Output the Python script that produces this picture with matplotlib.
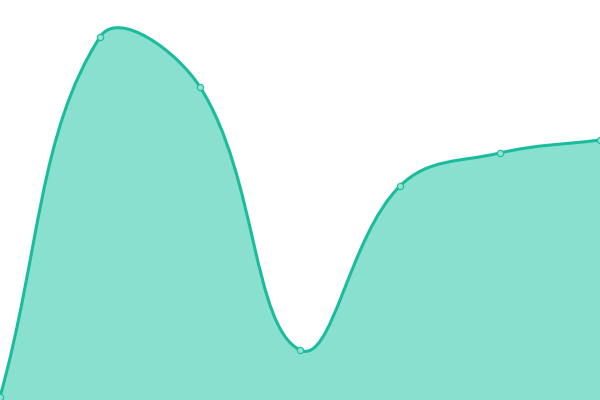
import numpy as np
import matplotlib
matplotlib.use('Agg')
from matplotlib import pyplot as plt
from matplotlib.path import Path
from matplotlib.patches import PathPatch

# valores (eixo y de 0 a 400)
xs = [0, 100, 200, 300, 400, 500, 600]
valores = [3, 363, 313, 50, 214, 247, 260]

LINHA = '#1abc9c'
AREA = '#89e0cf'
TENSAO = 0.4


def pontos_controle(px, py, t=TENSAO):
    # mesma ideia do spline do Chart.js (tensao 0.4)
    n = len(px)
    ant = []
    prox = []
    for i in range(n):
        a = (px[max(i - 1, 0)], py[max(i - 1, 0)])
        m = (px[i], py[i])
        d = (px[min(i + 1, n - 1)], py[min(i + 1, n - 1)])
        d01 = np.hypot(m[0] - a[0], m[1] - a[1])
        d12 = np.hypot(d[0] - m[0], d[1] - m[1])
        tot = d01 + d12
        s01 = d01 / tot if tot else 0
        s12 = d12 / tot if tot else 0
        fa = t * s01
        fb = t * s12
        ant.append((m[0] - fa * (d[0] - a[0]), m[1] - fa * (d[1] - a[1])))
        prox.append((m[0] + fb * (d[0] - a[0]), m[1] + fb * (d[1] - a[1])))
    return ant, prox


fig = plt.figure(figsize=(6, 4), dpi=100)
ax = fig.add_axes([0, 0, 1, 1])
ax.set_xlim(0, 600)
ax.set_ylim(0, 400)
ax.axis('off')

ant, prox = pontos_controle(xs, valores)
verts = [(xs[0], valores[0])]
codes = [Path.MOVETO]
for i in range(len(xs) - 1):
    verts += [prox[i], ant[i + 1], (xs[i + 1], valores[i + 1])]
    codes += [Path.CURVE4] * 3

# area preenchida
verts_area = verts + [(xs[-1], 0), (xs[0], 0), (xs[0], valores[0])]
codes_area = codes + [Path.LINETO, Path.LINETO, Path.CLOSEPOLY]
ax.add_patch(PathPatch(Path(verts_area, codes_area), facecolor=AREA,
                       edgecolor='none', zorder=1))
ax.add_patch(PathPatch(Path(verts, codes), facecolor='none', edgecolor=LINHA,
                       lw=2.2, zorder=2, capstyle='round', joinstyle='round'))

ax.plot(xs, valores, 'o', ms=4.5, mfc='#8fe3d0', mec=LINHA, mew=0.8,
        zorder=3, clip_on=False)

fig.savefig('out.png', dpi=100)
